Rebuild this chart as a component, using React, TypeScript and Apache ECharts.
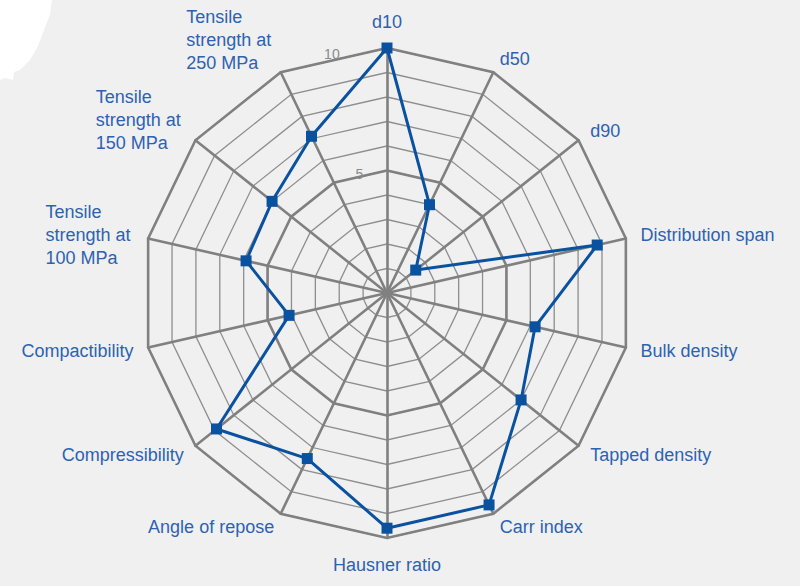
import React, { useEffect, useRef } from "react";
import * as echarts from "echarts";

// Axes in clockwise reading order, starting at the top
const categories: string[] = [
  "d10",
  "d50",
  "d90",
  "Distribution span",
  "Bulk density",
  "Tapped density",
  "Carr index",
  "Hausner ratio",
  "Angle of repose",
  "Compressibility",
  "Compactibility",
  "Tensile\nstrength at\n100 MPa",
  "Tensile\nstrength at\n150 MPa",
  "Tensile\nstrength at\n250 MPa",
];
const values: number[] = [10, 4.0, 1.5, 8.8, 6.2, 7.0, 9.6, 9.6, 7.5, 8.9, 4.1, 5.9, 6.0, 7.1];
const axisMax = 10;
const scaleTicks: number[] = [5, 10];

const BLUE = "#0a52a0";
const TEXT = "#2d62b0";

export default function App() {
  const ref = useRef<HTMLDivElement>(null);
  useEffect(() => {
    if (!ref.current) return;
    const chart = echarts.init(ref.current, null, { renderer: "svg" });
    // ECharts lays radar indicators counter-clockwise: keep the first, reverse the rest
    const order = [0, ...categories.slice(1).map((_, i) => categories.length - 1 - i)];
    const indicator = order.map((i) => ({ name: categories[i], max: axisMax, min: 0 }));
    const data = order.map((i) => values[i]);

    const center = [387, 293];
    const radius = 245;
    const fontFamily = "'Liberation Sans', Arial, sans-serif";

    const nameFormatter = (name: string) => {
      if (name.indexOf("\n") < 0) return "{n|" + name + "}";
      const lines = name.split("\n");
      const body = lines.map((l) => "{m|" + l + "}").join("\n");
      if (name.indexOf("250") >= 0) return body + "\n{s250| }";
      if (name.indexOf("150") >= 0) return body + "\n{s150| }";
      return body;
    };

    chart.setOption({
      animation: false,
      backgroundColor: "#f0f0f0",
      radar: [
        {
          center,
          radius,
          startAngle: 90,
          shape: "polygon",
          splitNumber: 10,
          indicator,
          axisName: { show: false },
          axisLine: { show: false },
          axisTick: { show: false },
          axisLabel: { show: false },
          splitArea: { show: false },
          splitLine: { lineStyle: { color: "#8e8e8e", width: 1.3 } },
        },
        {
          center,
          radius,
          startAngle: 90,
          shape: "polygon",
          splitNumber: 2,
          indicator,
          nameGap: 15,
          axisName: {
            show: true,
            color: TEXT,
            fontSize: 18,
            fontFamily,
            formatter: nameFormatter,
            rich: {
              n: { color: TEXT, fontSize: 18, fontFamily, lineHeight: 23 },
              m: { color: TEXT, fontSize: 18, fontFamily, lineHeight: 23, width: 88, align: "left" },
              s250: { fontSize: 10, lineHeight: 38, height: 38 },
              s150: { fontSize: 10, lineHeight: 22, height: 22 },
            },
          },
          axisLine: { show: true, lineStyle: { color: "#808080", width: 2.6 } },
          axisTick: { show: false },
          axisLabel: { show: false },
          splitArea: { show: false },
          splitLine: { lineStyle: { color: "#808080", width: 2.6 } },
        },
      ],
      polar: { center, radius },
      angleAxis: {
        startAngle: 103,
        min: 0,
        max: 360,
        show: false,
      },
      radiusAxis: {
        min: 0,
        max: axisMax,
        interval: 5,
        axisLine: { show: false },
        axisTick: { show: false },
        splitLine: { show: false },
        axisLabel: {
          show: true,
          margin: 0,
          align: "center",
          verticalAlign: "middle",
          color: "#8a8a8a",
          fontSize: 14,
          fontFamily,
          formatter: (v: number) => (scaleTicks.indexOf(v) >= 0 ? String(v) : ""),
        },
        z: 5,
      },
      graphic: [
        {
          type: "polygon",
          shape: {
            points: [
              [0, 0], [52, 0], [50, 14], [44, 30], [38, 46], [30, 60], [20, 70], [14, 72], [13, 80], [5, 78], [0, 80],
            ],
          },
          style: { fill: "#ffffff" },
          silent: true,
        },
      ],
      series: [
        {
          type: "radar",
          radarIndex: 0,
          z: 10,
          symbol: "rect",
          symbolSize: 11,
          lineStyle: { color: BLUE, width: 3 },
          itemStyle: { color: BLUE },
          data: [{ value: data, name: "Profile" }],
        },
      ],
    });
    return () => chart.dispose();
  }, []);
  return (
    <div
      ref={ref}
      style={{ position: "fixed", left: 0, top: 0, width: 800, height: 586 }}
    />
  );
}
